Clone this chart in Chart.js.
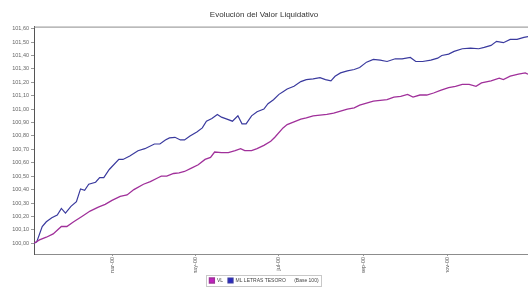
<!DOCTYPE html>
<html>
<head>
<meta charset="utf-8">
<script src="https://cdn.jsdelivr.net/npm/chart.js@4.4.1/dist/chart.umd.min.js"></script>
<style>
  html, body { margin: 0; padding: 0; background: #fff; }
  #wrap { width: 528px; height: 293px; }
</style>
</head>
<body>
<div id="wrap"><canvas id="vlChart"></canvas></div>
<script>
// days counted from 1 Jan 2000
const monthTicks = [60, 121, 182, 244, 305];
const monthLabels = ['mar-00', 'may-00', 'jul-00', 'sep-00', 'nov-00'];
const yTicks = [100.0, 100.1, 100.2, 100.3, 100.4, 100.5, 100.6, 100.7, 100.8,
                100.9, 101.0, 101.1, 101.2, 101.3, 101.4, 101.5, 101.6];

// ML LETRAS TESORO (Base 100)
const mlDays = [3, 5, 9, 12, 16, 20, 23, 26, 30, 34, 37, 40, 43, 48, 51, 54, 58, 65, 68, 73,
  79, 84, 91, 95, 99, 102, 106, 110, 113, 117, 122, 126, 129, 133, 137, 140, 144, 148, 152, 155,
  158, 162, 166, 171, 174, 178, 182, 185, 188, 193, 198, 202, 207, 212, 216, 220, 223, 227, 232, 237,
  241, 246, 251, 256, 261, 267, 272, 278, 282, 287, 293, 298, 301, 306, 310, 316, 322, 328, 332, 337,
  341, 346, 351, 356, 361, 364];
const mlValues = [100.00, 100.01, 100.125, 100.16, 100.19, 100.21, 100.26, 100.225, 100.275, 100.31,
  100.405, 100.395, 100.44, 100.455, 100.49, 100.49, 100.55, 100.625, 100.625, 100.65,
  100.69, 100.705, 100.74, 100.74, 100.77, 100.785, 100.79, 100.77, 100.77, 100.80,
  100.83, 100.86, 100.91, 100.93, 100.96, 100.94, 100.925, 100.91, 100.95, 100.89,
  100.89, 100.95, 100.98, 101.00, 101.04, 101.07, 101.11, 101.13, 101.15, 101.17,
  101.205, 101.22, 101.225, 101.235, 101.22, 101.21, 101.245, 101.27, 101.285, 101.295,
  101.31, 101.35, 101.37, 101.365, 101.355, 101.375, 101.375, 101.385, 101.355, 101.355,
  101.365, 101.38, 101.40, 101.41, 101.43, 101.45, 101.455, 101.45, 101.46, 101.475,
  101.505, 101.495, 101.52, 101.52, 101.535, 101.54];

// VL del fondo (Base 100)
const vlDays = [3, 7, 12, 17, 23, 27, 32, 38, 44, 50, 55, 60, 66, 71, 76, 83, 88, 94, 96, 100,
  105, 109, 113, 118, 123, 128, 132, 135, 140, 145, 150, 154, 157, 162, 166, 171, 176, 179, 185, 188,
  193, 198, 202, 207, 212, 217, 222, 227, 232, 237, 241, 246, 251, 256, 261, 266, 271, 276, 280, 285,
  290, 295, 300, 306, 311, 316, 321, 326, 330, 337, 343, 346, 351, 357, 362, 364];
const vlValues = [100.00, 100.025, 100.045, 100.07, 100.125, 100.125, 100.16, 100.20, 100.24, 100.27,
  100.29, 100.32, 100.35, 100.36, 100.40, 100.44, 100.46, 100.49, 100.50, 100.50,
  100.52, 100.525, 100.535, 100.56, 100.585, 100.625, 100.64, 100.68, 100.675, 100.675,
  100.69, 100.705, 100.69, 100.69, 100.705, 100.73, 100.76, 100.79, 100.86, 100.885,
  100.905, 100.925, 100.935, 100.95, 100.955, 100.96, 100.97, 100.985, 101.00, 101.01,
  101.03, 101.045, 101.06, 101.065, 101.07, 101.09, 101.095, 101.11, 101.09, 101.105,
  101.105, 101.12, 101.14, 101.16, 101.17, 101.185, 101.185, 101.17, 101.195, 101.21,
  101.23, 101.22, 101.245, 101.26, 101.27, 101.26];

const toPoints = (xs, ys) => xs.map((d, i) => ({ x: d, y: ys[i] }));

// frame line on top of the plot + box round the legend
const framePlugin = {
  id: 'frame',
  afterDraw(chart) {
    const c = chart.ctx, a = chart.chartArea;
    c.save();
    c.strokeStyle = '#8c8c8c';
    c.lineWidth = 1;
    c.beginPath();
    c.moveTo(a.left, a.top + 0.5);
    c.lineTo(a.right, a.top + 0.5);
    c.stroke();

    const boxes = chart.legend.legendHitBoxes;
    if (boxes && boxes.length) {
      const l = Math.min(...boxes.map(b => b.left)) - 3;
      const r = Math.max(...boxes.map(b => b.left + b.width)) + 3;
      const t = Math.min(...boxes.map(b => b.top)) - 3;
      const btm = Math.max(...boxes.map(b => b.top + b.height)) + 3;
      c.strokeStyle = '#c8c8c8';
      c.strokeRect(Math.round(l) + 0.5, Math.round(t) + 0.5, Math.round(r - l), Math.round(btm - t));
    }
    c.restore();
  }
};

new Chart(document.getElementById('vlChart'), {
  type: 'line',
  data: {
    datasets: [
      {
        label: 'VL',
        data: toPoints(vlDays, vlValues),
        borderColor: '#a0309a',
        backgroundColor: '#c020c0',
        borderWidth: 1.3,
        pointRadius: 0,
        tension: 0
      },
      {
        label: 'ML LETRAS TESORO      (Base 100)',
        data: toPoints(mlDays, mlValues),
        borderColor: '#3a3a9e',
        backgroundColor: '#2a2ac0',
        borderWidth: 1.2,
        pointRadius: 0,
        tension: 0
      }
    ]
  },
  options: {
    responsive: true,
    maintainAspectRatio: false,
    animation: false,
    layout: { padding: { left: 0, right: 0, top: 0, bottom: 0 } },
    plugins: {
      title: {
        display: true,
        text: 'Evolución del Valor Liquidativo',
        color: '#333',
        font: { family: 'Liberation Sans, Arial, sans-serif', size: 8, weight: 'normal' },
        padding: { top: 10, bottom: 7 }
      },
      legend: {
        position: 'bottom',
        labels: {
          boxWidth: 5,
          boxHeight: 5,
          padding: 5,
          color: '#444',
          font: { family: 'Liberation Sans, Arial, sans-serif', size: 5 }
        }
      },
      tooltip: { enabled: false }
    },
    scales: {
      x: {
        type: 'linear',
        min: 3,
        max: 364,
        afterBuildTicks: (axis) => { axis.ticks = monthTicks.map(v => ({ value: v })); },
        afterFit: (axis) => { axis.height = 19; },
        ticks: {
          autoSkip: false,
          minRotation: 90,
          maxRotation: 90,
          padding: 1,
          color: '#555',
          font: { family: 'Liberation Sans, Arial, sans-serif', size: 5.5 },
          callback: (v) => monthLabels[monthTicks.indexOf(v)] || ''
        },
        grid: { drawOnChartArea: false, tickLength: 2, color: '#999' },
        border: { color: '#8c8c8c' }
      },
      y: {
        min: 99.92,
        max: 101.615,
        afterBuildTicks: (axis) => { axis.ticks = yTicks.map(v => ({ value: v })); },
        afterFit: (axis) => { axis.width = 34; },
        ticks: {
          autoSkip: false,
          padding: 2,
          color: '#666',
          font: { family: 'Liberation Sans, Arial, sans-serif', size: 5.5 },
          callback: (v) => v.toFixed(2).replace('.', ',')
        },
        grid: { drawOnChartArea: false, tickLength: 3, color: '#999' },
        border: { color: '#555' }
      }
    }
  },
  plugins: [framePlugin]
});
</script>
</body>
</html>
